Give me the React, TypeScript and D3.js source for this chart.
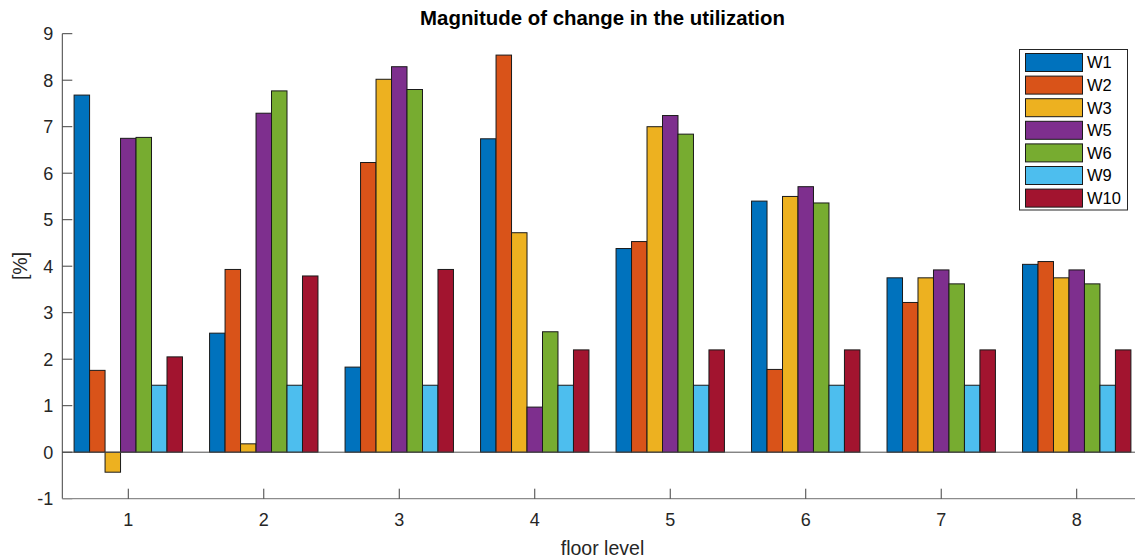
import React from "react";
import * as d3 from "d3";

const floors = [1, 2, 3, 4, 5, 6, 7, 8];
const seriesNames = ["W1", "W2", "W3", "W5", "W6", "W9", "W10"];
const colors = ["#0072BD", "#D95319", "#EDB120", "#7E2F8E", "#77AC30", "#4DBEEE", "#A2142F"];

const W1 = [7.68, 2.56, 1.83, 6.74, 4.38, 5.40, 3.75, 4.04];
const W2 = [1.76, 3.93, 6.23, 8.54, 4.53, 1.78, 3.22, 4.10];
const W3 = [-0.43, 0.18, 8.02, 4.72, 7.00, 5.50, 3.75, 3.75];
const W5 = [6.75, 7.29, 8.29, 0.97, 7.24, 5.71, 3.92, 3.92];
const W6 = [6.77, 7.77, 7.80, 2.59, 6.84, 5.36, 3.62, 3.62];
const W9 = [1.44, 1.44, 1.44, 1.44, 1.44, 1.44, 1.44, 1.44];
const W10 = [2.05, 3.79, 3.93, 2.20, 2.20, 2.20, 2.20, 2.20];

const seriesValues = [W1, W2, W3, W5, W6, W9, W10];
const yTicks = [-1, 0, 1, 2, 3, 4, 5, 6, 7, 8, 9];

const WIDTH = 1135;
const HEIGHT = 560;
const FONT = "'Liberation Sans', Arial, Helvetica, sans-serif";

export default function App() {
  const x = d3.scaleLinear().domain([0.513, 8.487]).range([62.3, 1142.7]);
  const y = d3.scaleLinear().domain([-1, 9]).range([498.7, 33.7]);
  const n = seriesNames.length;
  const groupWidth = 0.8;
  const bw = groupWidth / n;

  const left = x.range()[0];
  const bottom = y(-1);
  const topY = y(9);

  return (
    <svg
      width={WIDTH}
      height={HEIGHT}
      style={{ position: "absolute", left: 0, top: 0, display: "block", background: "#fff" }}
      fontFamily={FONT}
    >
      <rect x={0} y={0} width={WIDTH} height={HEIGHT} fill="#fff" />
      {/* bars */}
      {seriesValues.map((vals, j) =>
        vals.map((v, i) => {
          const x0 = x(floors[i] - groupWidth / 2 + j * bw);
          const x1 = x(floors[i] - groupWidth / 2 + (j + 1) * bw);
          const ya = y(Math.max(0, v));
          const yb = y(Math.min(0, v));
          return (
            <rect
              key={`${j}-${i}`}
              x={x0}
              y={ya}
              width={x1 - x0}
              height={yb - ya}
              fill={colors[j]}
              stroke="#1a1a1a"
              strokeWidth={1}
            />
          );
        })
      )}
      {/* baseline at zero */}
      <line x1={left} x2={WIDTH} y1={y(0)} y2={y(0)} stroke="#4d4d4d" strokeWidth={1} />
      {/* left axis */}
      <line x1={left} x2={left} y1={topY} y2={bottom} stroke="#404040" strokeWidth={1} />
      {yTicks.map((t) => (
        <g key={`yt${t}`}>
          <line x1={left} x2={left + 10} y1={y(t)} y2={y(t)} stroke="#404040" strokeWidth={1} />
          <text
            x={left - 9}
            y={y(t)}
            dy="0.36em"
            textAnchor="end"
            fontSize={18}
            fill="#262626"
          >
            {t}
          </text>
        </g>
      ))}
      {/* bottom axis */}
      <line x1={left} x2={WIDTH} y1={bottom} y2={bottom} stroke="#8c8c8c" strokeWidth={1.2} />
      {floors.map((f) => (
        <g key={`xt${f}`}>
          <line x1={x(f)} x2={x(f)} y1={bottom} y2={bottom - 10} stroke="#404040" strokeWidth={1} />
          <text x={x(f)} y={526} textAnchor="middle" fontSize={18} fill="#262626">
            {f}
          </text>
        </g>
      ))}
      {/* labels */}
      <text x={602.5} y={555} textAnchor="middle" fontSize={19.5} fill="#262626">
        floor level
      </text>
      <text
        transform={`translate(27, 266) rotate(-90)`}
        textAnchor="middle"
        fontSize={19.5}
        fill="#262626"
      >
        [%]
      </text>
      <text x={602.5} y={25} textAnchor="middle" fontSize={20.4} fontWeight="bold" fill="#000">
        Magnitude of change in the utilization
      </text>
      {/* legend */}
      <g>
        <rect x={1019.5} y={49.5} width={108} height={160.5} fill="#fff" stroke="#262626" strokeWidth={1} />
        {seriesNames.map((name, j) => {
          const ry = 53.5 + j * 22.6;
          return (
            <g key={name}>
              <rect x={1025.5} y={ry} width={57} height={18} fill={colors[j]} stroke="#1a1a1a" strokeWidth={1} />
              <text x={1087} y={ry + 9} dy="0.36em" fontSize={16.5} fill="#000">
                {name}
              </text>
            </g>
          );
        })}
      </g>
    </svg>
  );
}
